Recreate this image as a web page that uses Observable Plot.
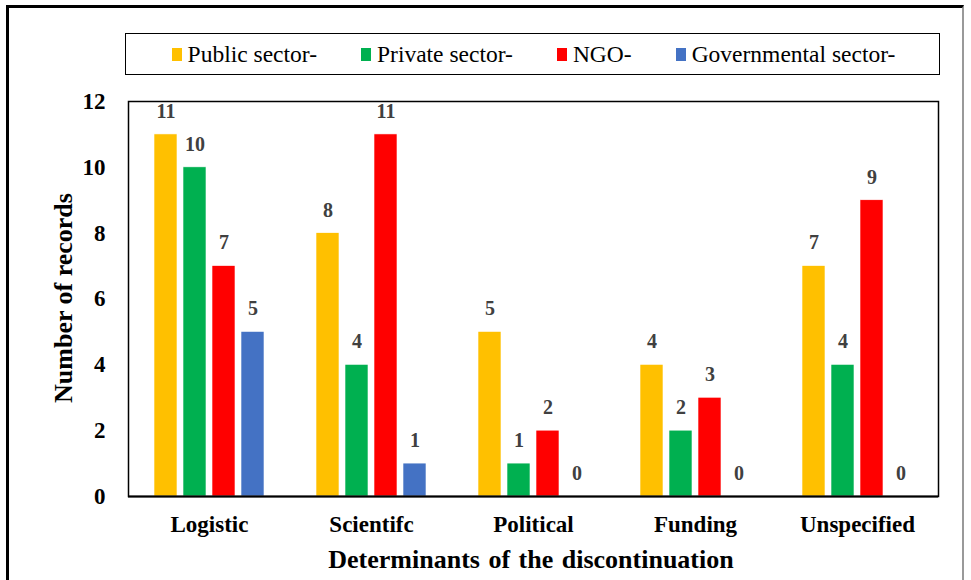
<!DOCTYPE html>
<html>
<head>
<meta charset="utf-8">
<script src="https://cdn.jsdelivr.net/npm/d3@7"></script>
<script src="https://cdn.jsdelivr.net/npm/@observablehq/plot@0.6"></script>
<style>
  body { margin: 0; background: #fff; }
  #page { position: relative; width: 971px; height: 580px; overflow: hidden; background: #fff; font-family: "Liberation Serif", "Times New Roman", serif; }
  #outer { position: absolute; left: 6px; top: 5px; width: 958px; height: 620px; border-left: 3px solid #000; border-top: 3px solid #000; border-right: 2px solid #999; box-sizing: border-box; }
  #legend { position: absolute; left: 125px; top: 33px; width: 815px; height: 42px; border: 1.5px solid #000; box-sizing: border-box; display: flex; align-items: center; justify-content: center; gap: 44px; font-size: 23.5px; color: #000; padding-left: 2px; }
  .item { display: flex; align-items: center; }
  .sw { display: inline-block; width: 10px; height: 13px; margin-right: 6px; }
  #chart { position: absolute; left: 0; top: 80px; }
  #ytitle { position: absolute; left: 64px; top: 298px; transform: translate(-50%, -50%) rotate(-90deg); font-weight: bold; font-size: 26px; white-space: nowrap; }
  #xtitle { position: absolute; left: 531px; top: 560px; transform: translate(-50%, -50%); font-weight: bold; font-size: 26px; word-spacing: 2px; white-space: nowrap; }
</style>
</head>
<body>
<div id="page">
  <div id="outer"></div>
  <div id="legend"></div>
  <div id="chart"></div>
  <div id="ytitle">Number of records</div>
  <div id="xtitle">Determinants of the discontinuation</div>
</div>
<script>
const categories = ["Logistic", "Scientifc", "Political", "Funding", "Unspecified"];
const series = ["Public sector-", "Private sector-", "NGO-", "Governmental sector-"];
const colors = ["#FFC000", "#00B050", "#FF0000", "#4472C4"];
const publicSector = [11, 8, 5, 4, 7];
const privateSector = [10, 4, 1, 2, 4];
const ngo = [7, 11, 2, 3, 9];
const governmental = [5, 1, 0, 0, 0];
const yTicks = [0, 2, 4, 6, 8, 10, 12];

const valuesBySeries = [publicSector, privateSector, ngo, governmental];
const rows = [];
categories.forEach((c, i) => {
  series.forEach((s, j) => rows.push({category: c, series: s, value: valuesBySeries[j][i]}));
});

// legend
const legend = document.getElementById("legend");
series.forEach((s, j) => {
  const it = document.createElement("span");
  it.className = "item";
  it.innerHTML = `<span class="sw" style="background:${colors[j]}"></span><span>${s}</span>`;
  legend.appendChild(it);
});

const plot = Plot.plot({
  width: 971,
  height: 500,
  marginLeft: 126,
  marginRight: 31,
  marginTop: 21,
  marginBottom: 84,
  style: {fontFamily: "'Liberation Serif', 'Times New Roman', serif", fontWeight: "bold", fontSize: "23px", color: "#000", background: "transparent"},
  fx: {domain: categories, padding: 0, label: null, tickSize: 0, tickPadding: 19, axis: "bottom"},
  x: {domain: series, paddingInner: 0.21, paddingOuter: 0.845, axis: null},
  y: {domain: [0, 12], ticks: yTicks, tickSize: 0, tickPadding: 23, label: null},
  color: {domain: series, range: colors},
  marks: [
    Plot.barY(rows, {fx: "category", x: "series", y: "value", fill: "series", stroke: "#fff", strokeWidth: 0.6}),
    Plot.text(rows, {fx: "category", x: "series", y: "value", text: d => String(d.value), dy: -23, fill: "#404040", fontSize: 20, fontWeight: "bold"}),
    Plot.frame({facet: "super", stroke: "#000", strokeWidth: 1.5}),
    Plot.ruleY([0], {stroke: "#000", strokeWidth: 2})
  ]
});
document.getElementById("chart").appendChild(plot);
</script>
</body>
</html>
